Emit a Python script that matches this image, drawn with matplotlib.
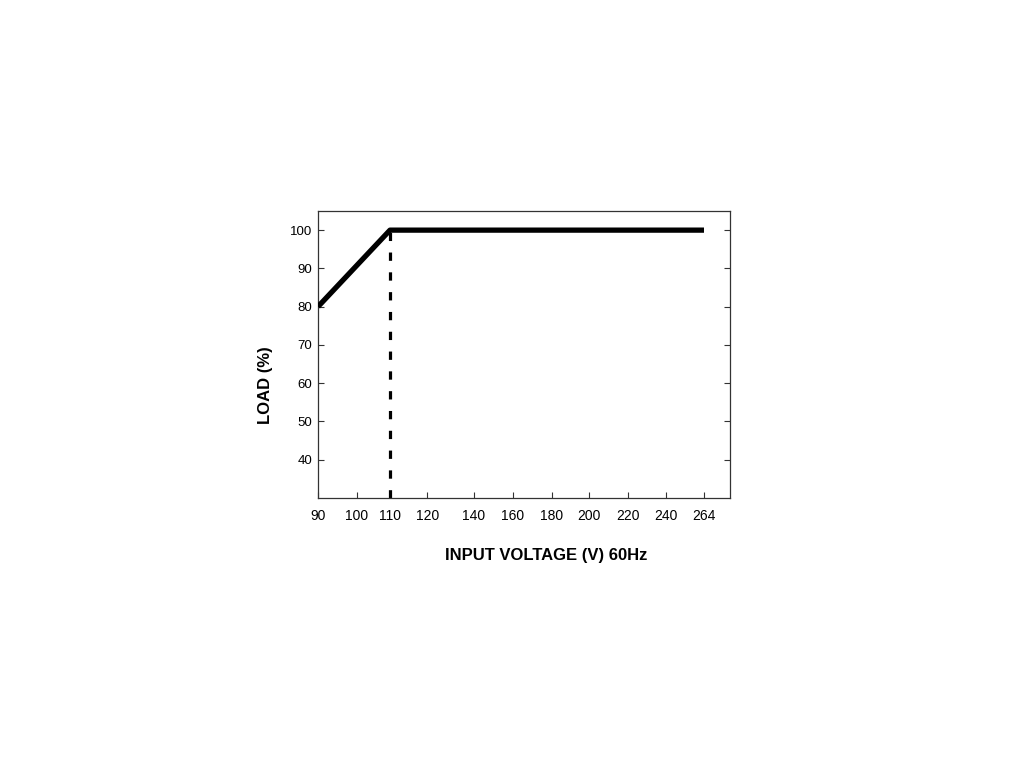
import numpy as np
import matplotlib.pyplot as plt

# --- DATA ---
volts = [90, 110, 264]          # derating curve, input voltage (V)
load = [80, 100, 100]           # load (%)
x_ticks = [90, 100, 110, 120, 140, 160, 180, 200, 220, 240, 264]
y_ticks = [40, 50, 60, 70, 80, 90, 100]
knee_v = 110
knee_load = 100

# non-linear x axis: where each tick sits (pixels on the original sheet)
tick_px = [318, 356.7, 390, 427.3, 474, 512.7, 551.7, 589.3, 628.3, 666, 704]
anchor_v = np.array(x_ticks + [290])
anchor_px = np.array(tick_px + [730])


def fwd(v):
    return np.interp(v, anchor_v, anchor_px, left=np.nan, right=np.nan)


def inv(p):
    return np.interp(p, anchor_px, anchor_v)


plt.rcParams['font.family'] = ['Liberation Sans', 'DejaVu Sans']

fig = plt.figure(figsize=(10.24, 7.68), dpi=100)
ax = fig.add_axes([318 / 1024, 1 - 498 / 768, 412 / 1024, 287 / 768])
ax.set_xscale('function', functions=(fwd, inv))
ax.set_xlim(90, 290)
ax.set_ylim(30, 105)

ax.plot(volts, load, color='black', lw=3.8, solid_capstyle='butt', zorder=3)
ax.plot([knee_v, knee_v], [30, knee_load], color='black', lw=2.3,
        dashes=(2.6, 3.6), zorder=2)

ax.set_xticks(x_ticks)
ax.set_xticklabels([str(t) for t in x_ticks])
ax.set_yticks(y_ticks)
ax.minorticks_off()
ax.tick_params(direction='in', length=4, width=0.8, color='#333333')
ax.tick_params(axis='y', right=True, pad=4, labelsize=9.5)
ax.tick_params(axis='x', pad=8, labelsize=10)

for s in ax.spines.values():
    s.set_linewidth(0.9)
    s.set_color('#333333')

ax.set_xlabel('INPUT VOLTAGE (V) 60Hz', fontsize=12, fontweight='bold')
ax.set_ylabel('LOAD (%)', fontsize=12, fontweight='bold')
ax.xaxis.set_label_coords(0.553, -0.175)
ax.yaxis.set_label_coords(-0.11, 0.394)

fig.savefig('out.png', dpi=100)
